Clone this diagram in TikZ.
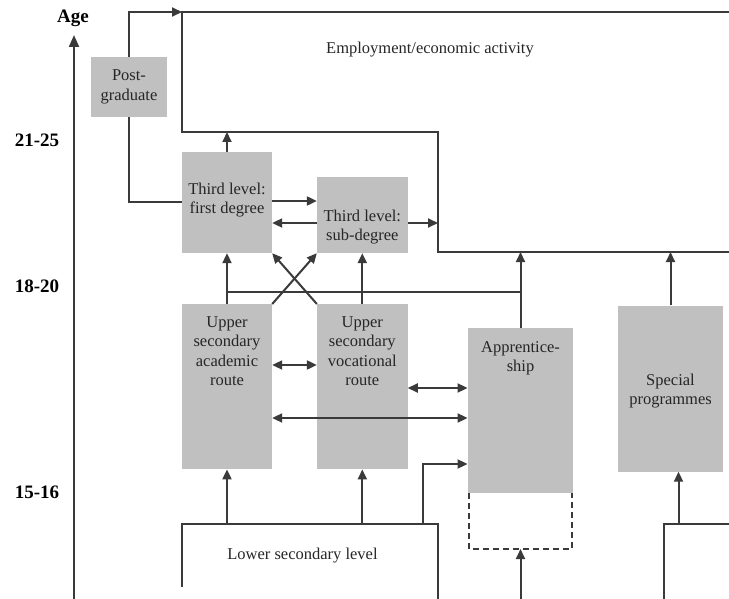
\documentclass[tikz,border=0pt]{standalone}
\usepackage{fontspec}
\setmainfont{Liberation Serif}
\usetikzlibrary{arrows.meta}
\definecolor{ln}{HTML}{3A3A3A}
\definecolor{bx}{HTML}{C0C0C0}
\begin{document}
\begin{tikzpicture}[x=1pt,y=-1pt,
  line/.style={draw=ln,line width=2pt},
  arr/.style={line,-{Triangle[length=10pt,width=9pt]}},
  darr/.style={line,{Triangle[length=10pt,width=9pt]}-{Triangle[length=10pt,width=9pt]}},
  gbox/.style={fill=bx,draw=none,inner sep=0pt,align=center,text=black!85},
  txt/.style={inner sep=0pt,align=center,text=black!85,font=\fontsize{16.5}{19.6}\selectfont},
  agelab/.style={inner sep=0pt,font=\fontsize{19}{22}\selectfont\bfseries},
  font=\fontsize{16.5}{19.6}\selectfont]
\useasboundingbox (0,0) rectangle (729,599);
% helper rows
\coordinate (r201) at (0,201);
\coordinate (r223) at (0,223);
\coordinate (r292) at (0,292);
\coordinate (r365) at (0,365);
\coordinate (r388) at (0,388);
\coordinate (r418) at (0,418);
\coordinate (r464) at (0,464);
% age axis
\coordinate (a0) at (74,599);
\coordinate (a1) at (74,35);
\draw[arr,-{Triangle[length=12pt,width=10pt]}] (a0) -- (a1);
\node[agelab] (age) at (73,18) {Age};
\node[agelab] (y1) at (37,140) {21-25};
\node[agelab] (y2) at (37,286) {18-20};
\node[agelab] (y3) at (37,492) {15-16};
% employment region
\coordinate (e1) at (182,12);
\coordinate (e2) at (729,12);
\coordinate (e3) at (182,132);
\coordinate (e4) at (438,132);
\coordinate (e5) at (438,252);
\coordinate (e6) at (729,252);
\draw[line] (e2) -- (e1) -- (e3) -- (e4) -- (e5) -- (e6);
\node[txt] (emp) at (430,50) {Employment/economic activity};
% boxes
\node[gbox,minimum width=76,minimum height=60] (pg) at (129,87) {Post-\\graduate};
\node[gbox,minimum width=90,minimum height=101] (fd) at (227,202.5) {};
\node[txt] (fdt) at (227,200) {Third level:\\first degree};
\node[gbox,minimum width=90.5,minimum height=76] (sd) at (362.3,215) {};
\node[txt] (sdt) at (362.3,227) {Third level:\\sub-degree};
\node[gbox,minimum width=90,minimum height=165] (ac) at (227,386.7) {};
\node[txt,anchor=north] (act) at (227,316) {Upper\\secondary\\academic\\route};
\node[gbox,minimum width=90.5,minimum height=165] (voc) at (362.3,386.7) {};
\node[txt,anchor=north] (voct) at (362.3,316) {Upper\\secondary\\vocational\\route};
\coordinate (d1) at (469,493);
\coordinate (d2) at (469,549);
\coordinate (d3) at (572,549);
\coordinate (d4) at (572,493);
\draw[line,dashed,dash pattern=on 6pt off 4pt,line width=1.6pt] (d1) -- (d2) -- (d3) -- (d4);
\node[gbox,minimum width=105.5,minimum height=165] (app) at (520.5,410.8) {};
\node[txt,anchor=north] (appt) at (520.5,341) {Apprentice-\\ship};
\node[gbox,minimum width=105.5,minimum height=166] (sp) at (670.5,388.5) {};
\node[txt] (spt) at (670.5,391) {Special\\programmes};
% upper connectors
\draw[arr] (pg.north) |- (e1);
\draw[line] (pg.south) |- (fd.west);
\draw[arr] (fd.north) -- (fd.north |- e3);
\draw[arr] (fd.east |- r201) -- (sd.west |- r201);
\draw[arr] (sd.west |- r223) -- (fd.east |- r223);
\draw[arr] (sd.east |- r223) -- (e4 |- r223);
\draw[arr] (ac.north) -- (fd.south);
\draw[arr] (voc.north) -- (sd.south);
\draw[line] (ac.north |- r292) -- (app.north |- r292);
\draw[arr] (app.north) -- (app.north |- e5);
\draw[arr] (ac.north east) -- (sd.south west);
\draw[arr] (voc.north west) -- (fd.south east);
\draw[arr] (sp.north) -- (sp.north |- e6);
\draw[darr] (ac.east |- r365) -- (voc.west |- r365);
\draw[darr] (voc.east |- r388) -- (app.west |- r388);
\draw[darr] (ac.east |- r418) -- (app.west |- r418);
% lower secondary
\coordinate (l1) at (182,587);
\coordinate (l2) at (182,524);
\coordinate (l3) at (438,524);
\coordinate (l4) at (438,599);
\coordinate (l5) at (422.5,524);
\draw[line] (l1) -- (l2) -- (l3) -- (l4);
\node[txt] (low) at (302.5,556) {Lower secondary level};
\draw[arr] (ac.south |- l2) -- (ac.south);
\draw[arr] (voc.south |- l2) -- (voc.south);
\draw[arr] (l5) |- (app.west |- r464);
\coordinate (b1) at (520.5,599);
\draw[arr] (b1) -- (d2 -| b1);
% right lower
\coordinate (s1) at (663.5,599);
\coordinate (s2) at (663.5,524);
\coordinate (s3) at (729,524);
\coordinate (s4) at (678.5,524);
\draw[line] (s1) -- (s2) -- (s3);
\draw[arr] (s4) -- (s4 |- sp.south);
\end{tikzpicture}
\end{document}
